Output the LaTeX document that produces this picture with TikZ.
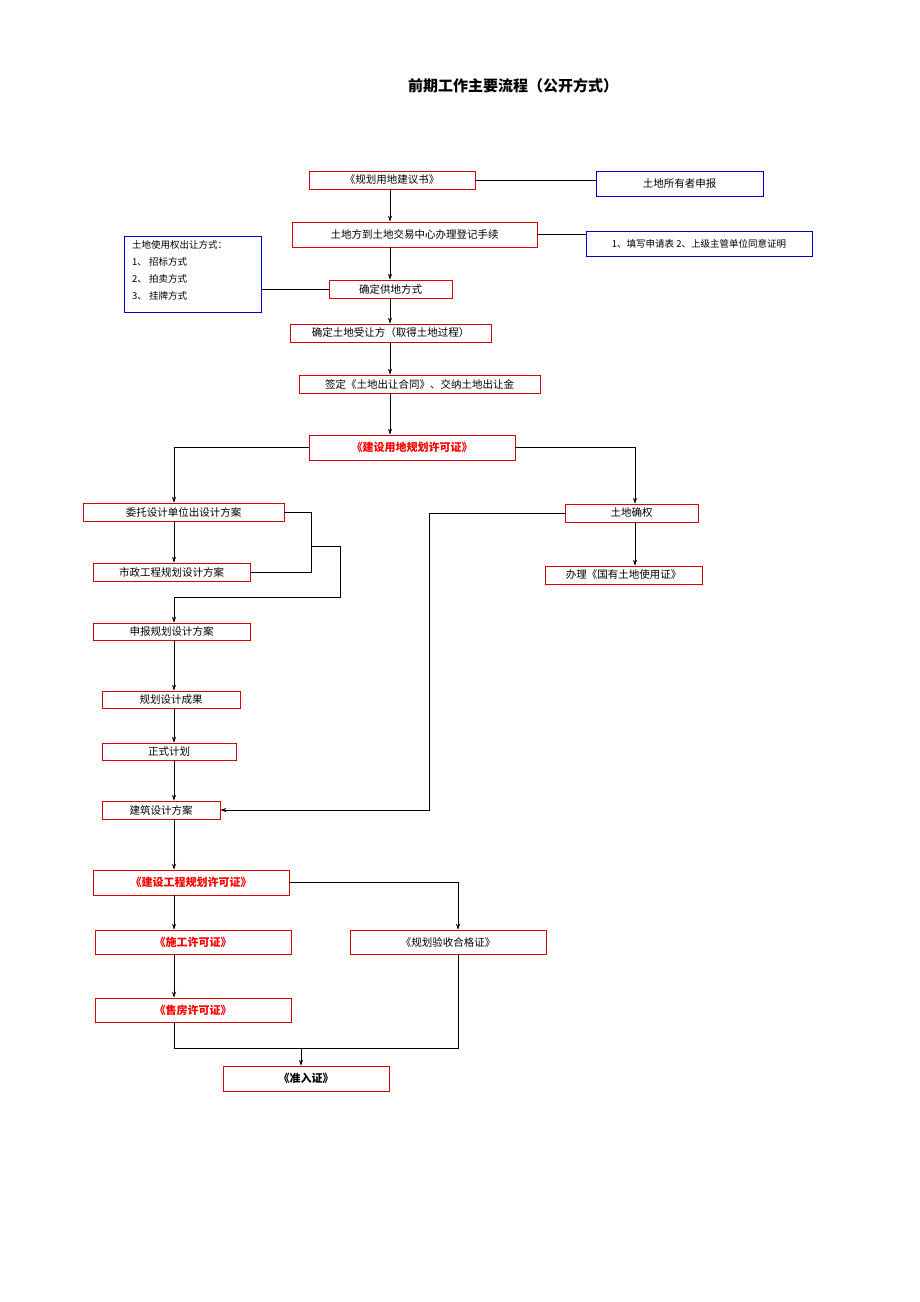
\documentclass[tikz,border=0pt]{standalone}
\usepackage{fontspec}
\setmainfont{Noto Sans CJK SC}
\usetikzlibrary{arrows.meta}
\begin{document}
\begin{tikzpicture}[x=1pt,y=-1pt,
 rb/.style={draw=red!85!black,line width=0.6pt,inner sep=0pt},
 bb/.style={draw=blue!80!black,line width=0.6pt,inner sep=0pt},
 tx/.style={font=\fontsize{10.5}{12}\selectfont},
 bold/.style={font=\fontsize{11}{12}\selectfont\bfseries,text=red},
 ln/.style={line width=0.6pt},
 ar/.style={line width=0.6pt,-{Stealth[length=6pt,width=4pt]}}]
\useasboundingbox (0,0) rectangle (920,1302);
\newcommand\bx[6]{\node[#1,minimum width={#4-#2},minimum height={#5-#3}] (#6) at ({(#2+#4)/2},{(#3+#5)/2}) {};}
\node[font=\fontsize{15}{17}\selectfont\bfseries] (title) at (513,86) {前期工作主要流程（公开方式）};
\bx{rb}{309}{171}{475}{189}{b1}\node[tx] at (b1) {《规划用地建议书》};
\bx{bb}{596}{171}{763}{196}{b2}\node[tx] at (b2) {土地所有者申报};
\bx{rb}{292}{222}{537}{247}{b3}\node[tx] at (b3) {土地方到土地交易中心办理登记手续};
\bx{bb}{586}{231}{812}{256}{b4}\node[font=\fontsize{9.5}{12}\selectfont] at (b4) {1、填写申请表 2、上级主管单位同意证明};
\bx{bb}{124}{236}{261}{312}{b5}
\node[anchor=north west,align=left,inner sep=0pt,font=\fontsize{9.5}{17}\selectfont] (b5t) at (132,240) {土地使用权出让方式：\\1、 招标方式\\2、 拍卖方式\\3、 挂牌方式};
\bx{rb}{329}{280}{452}{298}{b6}\node[tx] at (b6) {确定供地方式};
\bx{rb}{290}{324}{491}{342}{b7}\node[tx] at (b7) {确定土地受让方（取得土地过程）};
\bx{rb}{299}{375}{540}{393}{b8}\node[tx] at (b8) {签定《土地出让合同》、交纳土地出让金};
\bx{rb}{309}{435}{515}{460}{b9}\node[bold] at (b9) {《建设用地规划许可证》};
\bx{rb}{83}{503}{284}{521}{b10}\node[tx] at (b10) {委托设计单位出设计方案};
\bx{rb}{565}{504}{698}{522}{b11}\node[tx] at (b11) {土地确权};
\bx{rb}{93}{563}{250}{581}{b12}\node[tx] at (b12) {市政工程规划设计方案};
\bx{rb}{545}{566}{702}{584}{b13}\node[tx] at (b13) {办理《国有土地使用证》};
\bx{rb}{93}{623}{250}{640}{b14}\node[tx] at (b14) {申报规划设计方案};
\bx{rb}{102}{691}{240}{708}{b15}\node[tx] at (b15) {规划设计成果};
\bx{rb}{102}{743}{236}{760}{b16}\node[tx] at (b16) {正式计划};
\bx{rb}{102}{801}{220}{819}{b17}\node[tx] at (b17) {建筑设计方案};
\bx{rb}{93}{870}{289}{895}{b18}\node[bold] at (b18) {《建设工程规划许可证》};
\bx{rb}{95}{930}{291}{954}{b19}\node[bold] at (b19) {《施工许可证》};
\bx{rb}{350}{930}{546}{954}{b20}\node[tx] at (b20) {《规划验收合格证》};
\bx{rb}{95}{998}{291}{1022}{b21}\node[bold] at (b21) {《售房许可证》};
\bx{rb}{223}{1066}{389}{1091}{b22}\node[bold,text=black] at (b22) {《准入证》};
% connectors
\draw[ln] (b1.east) -- (b1.east -| b2.west);
\draw[ar] (b1.south -| 390,0) -- (b3.north -| 390,0);
\draw[ln] (b3.east) -- (b3.east -| b4.west);
\draw[ar] (b3.south -| 390,0) -- (b6.north -| 390,0);
\draw[ln] (b6.west -| b5.east) -- (b6.west);
\draw[ar] (b6.south -| 390,0) -- (b7.north -| 390,0);
\draw[ar] (b7.south -| 390,0) -- (b8.north -| 390,0);
\draw[ar] (b8.south -| 390,0) -- (b9.north -| 390,0);
\draw[ar] (b9.west) -| (b10.north -| 174,0);
\draw[ar] (b9.east) -| (b11.north -| 635,0);
\draw[ar] (b10.south -| 174,0) -- (b12.north -| 174,0);
\coordinate (j1) at (311,546);
\draw[ln] (b10.east) -- (311,512) -- (311,572) -- (b12.east);
\draw[ar] (j1) -- (340,546) -- (340,597) -- (174,597) -- (b14.north -| 174,0);
\draw[ar] (b14.south -| 174,0) -- (b15.north -| 174,0);
\draw[ar] (b15.south -| 174,0) -- (b16.north -| 174,0);
\draw[ar] (b16.south -| 174,0) -- (b17.north -| 174,0);
\draw[ar] (b11.west) -- (b11.west -| 429,0) -- (b17.east -| 429,0) -- (b17.east);
\draw[ar] (b11.south -| 635,0) -- (b13.north -| 635,0);
\draw[ar] (b17.south -| 174,0) -- (b18.north -| 174,0);
\draw[ar] (b18.east) -| (b20.north -| 458,0);
\draw[ar] (b18.south -| 174,0) -- (b19.north -| 174,0);
\draw[ar] (b19.south -| 174,0) -- (b21.north -| 174,0);
\coordinate (j2) at (301,1048);
\draw[ln] (b21.south -| 174,0) -- (174,1048) -- (458,1048) -- (b20.south -| 458,0);
\draw[ar] (j2) -- (b22.north -| j2);
\end{tikzpicture}
\end{document}
